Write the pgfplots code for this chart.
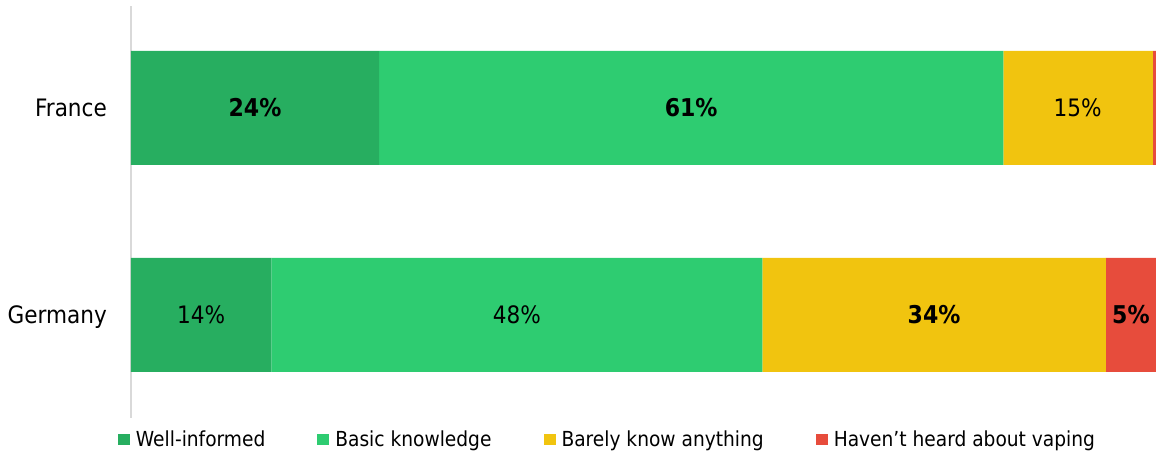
\documentclass[border=0pt]{standalone}
\usepackage{pgfplots}
\usepackage{pgfplotstable}
\pgfplotsset{compat=1.18}
\usepackage{fontspec}
\setmainfont{DejaVu Sans Condensed}
\definecolor{cWI}{HTML}{27AE60}
\definecolor{cBK}{HTML}{2ECC71}
\definecolor{cBA}{HTML}{F1C40F}
\definecolor{cHH}{HTML}{E74C3C}
\definecolor{axgray}{HTML}{D9D9D9}

\pgfplotstableread{
y wi bk ba hh
0 13.7 47.9 33.5 4.9
1 24.2 60.9 14.6 0.3
}\bars

\pgfplotstableread{
x y label
12.1 1 24\%
54.65 1 61\%
78.35 0 34\%
97.55 0 5\%
}\boldlabels

\pgfplotstableread{
x y label
92.35 1 15\%
6.85 0 14\%
37.65 0 48\%
}\normallabels

\begin{document}
\begin{tikzpicture}
\pgfplotsset{
  common/.style={
    at={(131pt,36pt)}, anchor=south west,
    scale only axis, width=1025pt, height=412pt,
    xmin=0, xmax=100, ymin=-0.4976, ymax=1.4928,
  }
}
\begin{axis}[
  common,
  xbar stacked,
  bar width=114pt,
  axis x line=none,
  axis y line*=left,
  y axis line style={color=axgray, line width=1.3pt},
  ytick={0,1}, yticklabels={Germany,France},
  ytick style={draw=none},
  yticklabel style={font=\fontsize{24}{28}\selectfont, inner sep=0pt, anchor=base east, xshift=-24pt, yshift=-8.8pt},
  legend columns=4,
  legend style={draw=none, fill=none, inner sep=0pt, outer sep=0pt,
    at={(-0.0127,-0.0522)}, anchor=west,
    font=\fontsize{20.7}{24}\selectfont,
    /tikz/every even column/.append style={column sep=50pt},
    nodes={inner sep=2pt}},
  legend cell align=left,
  legend image code/.code={\path[#1] (0pt,-5.5pt) rectangle (12pt,5.5pt); \path (16pt,0pt);},
]
\addplot[fill=cWI, draw=none] table[x=wi, y=y] {\bars};
\addlegendentry{Well-informed}
\addplot[fill=cBK, draw=none] table[x=bk, y=y] {\bars};
\addlegendentry{Basic knowledge}
\addplot[fill=cBA, draw=none] table[x=ba, y=y] {\bars};
\addlegendentry{Barely know anything}
\addplot[fill=cHH, draw=none] table[x=hh, y=y] {\bars};
\addlegendentry{Haven’t heard about vaping}
\end{axis}
\begin{axis}[common, hide axis]
\addplot[draw=none, mark=none, nodes near coords, point meta=explicit symbolic,
  every node near coord/.append style={anchor=base, yshift=-8.8pt, inner sep=0pt, font=\fontsize{24.5}{28}\selectfont\bfseries}]
  table[x=x, y=y, meta=label] {\boldlabels};
\addplot[draw=none, mark=none, nodes near coords, point meta=explicit symbolic,
  every node near coord/.append style={anchor=base, yshift=-8.8pt, inner sep=0pt, font=\fontsize{24}{28}\selectfont}]
  table[x=x, y=y, meta=label] {\normallabels};
\end{axis}
\pgfresetboundingbox
\path[use as bounding box] (0,0) rectangle (1156pt,454pt);
\end{tikzpicture}
\end{document}
